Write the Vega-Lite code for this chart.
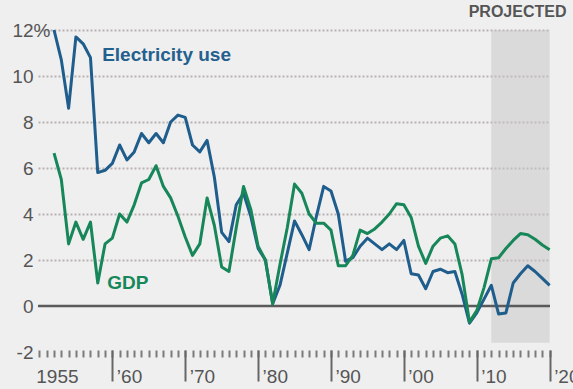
{
  "$schema": "https://vega.github.io/schema/vega-lite/v6.json",
  "width": 512,
  "height": 322,
  "autosize": {"type": "none"},
  "padding": {"left": 38, "top": 30, "right": 23, "bottom": 37},
  "background": "#efefef",
  "config": {"view": {"stroke": null}, "font": "Liberation Sans"},
  "datasets": {
    "growth": [
      {"year": 1952, "series": "Electricity use", "value": 12.0},
      {"year": 1953, "series": "Electricity use", "value": 10.7},
      {"year": 1954, "series": "Electricity use", "value": 8.6},
      {"year": 1955, "series": "Electricity use", "value": 11.7},
      {"year": 1956, "series": "Electricity use", "value": 11.4},
      {"year": 1957, "series": "Electricity use", "value": 10.8},
      {"year": 1958, "series": "Electricity use", "value": 5.8},
      {"year": 1959, "series": "Electricity use", "value": 5.9},
      {"year": 1960, "series": "Electricity use", "value": 6.2},
      {"year": 1961, "series": "Electricity use", "value": 7.0},
      {"year": 1962, "series": "Electricity use", "value": 6.35},
      {"year": 1963, "series": "Electricity use", "value": 6.7},
      {"year": 1964, "series": "Electricity use", "value": 7.5},
      {"year": 1965, "series": "Electricity use", "value": 7.1},
      {"year": 1966, "series": "Electricity use", "value": 7.5},
      {"year": 1967, "series": "Electricity use", "value": 7.1},
      {"year": 1968, "series": "Electricity use", "value": 8.0},
      {"year": 1969, "series": "Electricity use", "value": 8.3},
      {"year": 1970, "series": "Electricity use", "value": 8.2},
      {"year": 1971, "series": "Electricity use", "value": 7.0},
      {"year": 1972, "series": "Electricity use", "value": 6.7},
      {"year": 1973, "series": "Electricity use", "value": 7.2},
      {"year": 1974, "series": "Electricity use", "value": 5.6},
      {"year": 1975, "series": "Electricity use", "value": 3.2},
      {"year": 1976, "series": "Electricity use", "value": 2.8},
      {"year": 1977, "series": "Electricity use", "value": 4.4},
      {"year": 1978, "series": "Electricity use", "value": 4.9},
      {"year": 1979, "series": "Electricity use", "value": 3.9},
      {"year": 1980, "series": "Electricity use", "value": 2.5},
      {"year": 1981, "series": "Electricity use", "value": 2.0},
      {"year": 1982, "series": "Electricity use", "value": 0.1},
      {"year": 1983, "series": "Electricity use", "value": 0.9},
      {"year": 1984, "series": "Electricity use", "value": 2.3},
      {"year": 1985, "series": "Electricity use", "value": 3.7},
      {"year": 1986, "series": "Electricity use", "value": 3.1},
      {"year": 1987, "series": "Electricity use", "value": 2.45},
      {"year": 1988, "series": "Electricity use", "value": 3.9},
      {"year": 1989, "series": "Electricity use", "value": 5.2},
      {"year": 1990, "series": "Electricity use", "value": 5.0},
      {"year": 1991, "series": "Electricity use", "value": 4.0},
      {"year": 1992, "series": "Electricity use", "value": 1.95},
      {"year": 1993, "series": "Electricity use", "value": 2.1},
      {"year": 1994, "series": "Electricity use", "value": 2.6},
      {"year": 1995, "series": "Electricity use", "value": 2.95},
      {"year": 1996, "series": "Electricity use", "value": 2.7},
      {"year": 1997, "series": "Electricity use", "value": 2.45},
      {"year": 1998, "series": "Electricity use", "value": 2.7},
      {"year": 1999, "series": "Electricity use", "value": 2.45},
      {"year": 2000, "series": "Electricity use", "value": 2.85},
      {"year": 2001, "series": "Electricity use", "value": 1.4},
      {"year": 2002, "series": "Electricity use", "value": 1.35},
      {"year": 2003, "series": "Electricity use", "value": 0.75},
      {"year": 2004, "series": "Electricity use", "value": 1.5},
      {"year": 2005, "series": "Electricity use", "value": 1.6},
      {"year": 2006, "series": "Electricity use", "value": 1.45},
      {"year": 2007, "series": "Electricity use", "value": 1.5},
      {"year": 2008, "series": "Electricity use", "value": 0.5},
      {"year": 2009, "series": "Electricity use", "value": -0.75},
      {"year": 2010, "series": "Electricity use", "value": -0.3},
      {"year": 2011, "series": "Electricity use", "value": 0.3},
      {"year": 2012, "series": "Electricity use", "value": 0.9},
      {"year": 2013, "series": "Electricity use", "value": -0.35},
      {"year": 2014, "series": "Electricity use", "value": -0.3},
      {"year": 2015, "series": "Electricity use", "value": 1.0},
      {"year": 2016, "series": "Electricity use", "value": 1.4},
      {"year": 2017, "series": "Electricity use", "value": 1.75},
      {"year": 2018, "series": "Electricity use", "value": 1.5},
      {"year": 2019, "series": "Electricity use", "value": 1.2},
      {"year": 2020, "series": "Electricity use", "value": 0.9},
      {"year": 1952, "series": "GDP", "value": 6.65},
      {"year": 1953, "series": "GDP", "value": 5.5},
      {"year": 1954, "series": "GDP", "value": 2.7},
      {"year": 1955, "series": "GDP", "value": 3.65},
      {"year": 1956, "series": "GDP", "value": 2.9},
      {"year": 1957, "series": "GDP", "value": 3.65},
      {"year": 1958, "series": "GDP", "value": 1.0},
      {"year": 1959, "series": "GDP", "value": 2.7},
      {"year": 1960, "series": "GDP", "value": 2.95},
      {"year": 1961, "series": "GDP", "value": 4.0},
      {"year": 1962, "series": "GDP", "value": 3.65},
      {"year": 1963, "series": "GDP", "value": 4.4},
      {"year": 1964, "series": "GDP", "value": 5.35},
      {"year": 1965, "series": "GDP", "value": 5.5},
      {"year": 1966, "series": "GDP", "value": 6.1},
      {"year": 1967, "series": "GDP", "value": 5.2},
      {"year": 1968, "series": "GDP", "value": 4.7},
      {"year": 1969, "series": "GDP", "value": 3.9},
      {"year": 1970, "series": "GDP", "value": 3.0},
      {"year": 1971, "series": "GDP", "value": 2.2},
      {"year": 1972, "series": "GDP", "value": 2.7},
      {"year": 1973, "series": "GDP", "value": 4.7},
      {"year": 1974, "series": "GDP", "value": 3.5},
      {"year": 1975, "series": "GDP", "value": 1.7},
      {"year": 1976, "series": "GDP", "value": 1.5},
      {"year": 1977, "series": "GDP", "value": 3.4},
      {"year": 1978, "series": "GDP", "value": 5.2},
      {"year": 1979, "series": "GDP", "value": 4.2},
      {"year": 1980, "series": "GDP", "value": 2.6},
      {"year": 1981, "series": "GDP", "value": 2.0},
      {"year": 1982, "series": "GDP", "value": 0.1},
      {"year": 1983, "series": "GDP", "value": 1.8},
      {"year": 1984, "series": "GDP", "value": 3.4},
      {"year": 1985, "series": "GDP", "value": 5.3},
      {"year": 1986, "series": "GDP", "value": 4.9},
      {"year": 1987, "series": "GDP", "value": 4.0},
      {"year": 1988, "series": "GDP", "value": 3.6},
      {"year": 1989, "series": "GDP", "value": 3.6},
      {"year": 1990, "series": "GDP", "value": 3.3},
      {"year": 1991, "series": "GDP", "value": 1.75},
      {"year": 1992, "series": "GDP", "value": 1.75},
      {"year": 1993, "series": "GDP", "value": 2.2},
      {"year": 1994, "series": "GDP", "value": 3.3},
      {"year": 1995, "series": "GDP", "value": 3.15},
      {"year": 1996, "series": "GDP", "value": 3.35},
      {"year": 1997, "series": "GDP", "value": 3.65},
      {"year": 1998, "series": "GDP", "value": 4.0},
      {"year": 1999, "series": "GDP", "value": 4.45},
      {"year": 2000, "series": "GDP", "value": 4.4},
      {"year": 2001, "series": "GDP", "value": 3.85},
      {"year": 2002, "series": "GDP", "value": 2.6},
      {"year": 2003, "series": "GDP", "value": 1.85},
      {"year": 2004, "series": "GDP", "value": 2.6},
      {"year": 2005, "series": "GDP", "value": 2.95},
      {"year": 2006, "series": "GDP", "value": 3.05},
      {"year": 2007, "series": "GDP", "value": 2.7},
      {"year": 2008, "series": "GDP", "value": 1.35},
      {"year": 2009, "series": "GDP", "value": -0.7},
      {"year": 2010, "series": "GDP", "value": -0.2},
      {"year": 2011, "series": "GDP", "value": 0.8},
      {"year": 2012, "series": "GDP", "value": 2.05},
      {"year": 2013, "series": "GDP", "value": 2.1},
      {"year": 2014, "series": "GDP", "value": 2.5},
      {"year": 2015, "series": "GDP", "value": 2.85},
      {"year": 2016, "series": "GDP", "value": 3.15},
      {"year": 2017, "series": "GDP", "value": 3.1},
      {"year": 2018, "series": "GDP", "value": 2.9},
      {"year": 2019, "series": "GDP", "value": 2.65},
      {"year": 2020, "series": "GDP", "value": 2.45}
    ]
  },
  "layer": [
    {
      "data": {"values": [{"start": 2012, "end": 2020}]},
      "mark": {"type": "rect", "color": "#c6c6c6", "opacity": 0.5},
      "encoding": {
        "x": {
          "field": "start",
          "type": "quantitative",
          "scale": {"domain": [1949.8, 2020.05], "nice": false, "zero": false},
          "axis": {
            "orient": "bottom",
            "title": null,
            "values": [1950,1951,1952,1953,1954,1955,1956,1957,1958,1959,1960,1961,1962,1963,1964,1965,1966,1967,1968,1969,1970,1971,1972,1973,1974,1975,1976,1977,1978,1979,1980,1981,1982,1983,1984,1985,1986,1987,1988,1989,1990,1991,1992,1993,1994,1995,1996,1997,1998,1999,2000,2001,2002,2003,2004,2005,2006,2007,2008,2009,2010,2011,2012,2013,2014,2015,2016,2017,2018,2019,2020],
            "labelExpr": "datum.value == 1955 ? '1955' : ''",
            "domain": false,
            "grid": false,
            "offset": -2,
            "tickSize": 7,
            "tickWidth": 2,
            "tickColor": "#7a7a7a",
            "labelAlign": "center",
            "labelOffset": -19,
            "labelBaseline": "alphabetic",
            "labelPadding": 25,
            "labelFontSize": 19,
            "labelColor": "#555555",
            "labelOverlap": false,
            "labelFlush": false
          }
        },
        "x2": {"field": "end"},
        "y": {
          "datum": -1.6,
          "type": "quantitative",
          "scale": {"domain": [-2, 12], "nice": false, "zero": false},
          "axis": null
        },
        "y2": {"datum": 12}
      }
    },
    {
      "data": {"values": [{}]},
      "mark": {"type": "rule", "color": "#5a5a5a", "strokeWidth": 2.5},
      "encoding": {"y": {"datum": 0, "type": "quantitative", "axis": null}}
    },
    {
      "data": {"name": "growth"},
      "mark": {"type": "line", "strokeWidth": 3, "strokeJoin": "round"},
      "encoding": {
        "x": {
          "field": "year",
          "type": "quantitative",
          "axis": {
            "orient": "bottom",
            "title": null,
            "values": [1960, 1970, 1980, 1990, 2000, 2010, 2020],
            "labelExpr": "'’' + substring(toString(datum.value), 2, 4)",
            "domain": false,
            "grid": false,
            "offset": -2,
            "tickSize": 31,
            "tickWidth": 2,
            "tickColor": "#666666",
            "labelAlign": "left",
            "labelOffset": 4,
            "labelBaseline": "alphabetic",
            "labelPadding": 1,
            "labelFontSize": 19,
            "labelColor": "#555555",
            "labelOverlap": false,
            "labelFlush": false
          }
        },
        "y": {
          "field": "value",
          "type": "quantitative",
          "axis": {
            "orient": "left",
            "title": null,
            "values": [-2, 0, 2, 4, 6, 8, 10, 12],
            "domain": false,
            "ticks": false,
            "grid": true,
            "gridColor": "#bab2b2",
            "gridDash": [2, 2],
            "gridWidth": 2,
            "gridOpacity": {"condition": {"test": "datum.value <= 0", "value": 0}, "value": 1},
            "labelExpr": "datum.value == 12 ? '12%' : (datum.value < 0 ? '-2' : toString(datum.value))",
            "labelFontSize": 19,
            "labelColor": "#555555",
            "labelBaseline": "middle",
            "labelFlush": false,
            "labelOverlap": false,
            "labelPadding": {"condition": {"test": "datum.value == 12", "value": -12}, "value": 5}
          }
        },
        "color": {
          "field": "series",
          "type": "nominal",
          "scale": {"domain": ["Electricity use", "GDP"], "range": ["#1f5d8c", "#17875a"]},
          "legend": null
        }
      }
    },
    {
      "data": {"values": [{}]},
      "mark": {"type": "text", "text": "Electricity use", "align": "left", "baseline": "middle", "fontSize": 19, "fontWeight": "bold", "color": "#23608e"},
      "encoding": {
        "x": {"datum": 1958.6, "type": "quantitative", "axis": null},
        "y": {"datum": 10.9, "type": "quantitative", "axis": null}
      }
    },
    {
      "data": {"values": [{}]},
      "mark": {"type": "text", "text": "GDP", "align": "left", "baseline": "middle", "fontSize": 19, "fontWeight": "bold", "color": "#17875a"},
      "encoding": {
        "x": {"datum": 1959.3, "type": "quantitative", "axis": null},
        "y": {"datum": 1.0, "type": "quantitative", "axis": null}
      }
    },
    {
      "data": {"values": [{}]},
      "mark": {"type": "text", "text": "PROJECTED", "align": "center", "baseline": "middle", "fontSize": 16, "fontWeight": "bold", "color": "#555555", "dy": -18},
      "encoding": {
        "x": {"datum": 2015.6, "type": "quantitative", "axis": null},
        "y": {"datum": 12, "type": "quantitative", "axis": null}
      }
    }
  ],
  "resolve": {"axis": {"x": "independent", "y": "independent"}}
}
